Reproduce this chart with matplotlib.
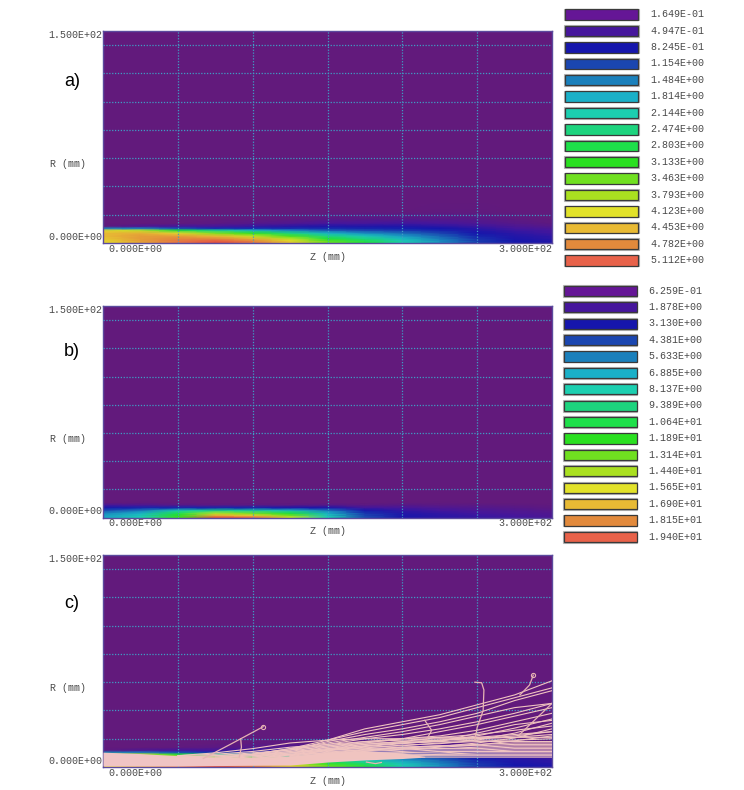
#!/usr/bin/env python3
import matplotlib
matplotlib.use('Agg')
import matplotlib.pyplot as plt
from matplotlib.colors import LinearSegmentedColormap, Normalize
from matplotlib.patches import Rectangle
import numpy as np

nan = float('nan')

# axial and radial stations (mm) the field maps were read at
z_st = [0, 25, 50, 75, 100, 125, 150, 175, 200, 225, 250, 275, 300]
r_st = [0, 1.5, 3, 5, 7, 9, 10.5, 12, 14, 17, 22, 30, 150]

# panel a), one row per radius
field_a = [
    [4.2, 4.6, 5.0, 5.3, 5.0, 4.4, 3.5, 3.0, 2.2, 1.6, 1.1, 0.85, 0.75],
    [4.3, 4.7, 5.0, 5.2, 4.9, 4.3, 3.4, 2.8, 2.1, 1.6, 1.1, 0.85, 0.75],
    [4.4, 4.7, 4.9, 4.9, 4.6, 4.0, 3.0, 2.5, 2.0, 1.5, 1.05, 0.8, 0.7],
    [4.5, 4.7, 4.7, 4.5, 4.0, 3.3, 2.5, 2.1, 1.7, 1.35, 0.95, 0.75, 0.65],
    [4.5, 4.6, 4.3, 3.6, 3.2, 2.5, 1.9, 1.6, 1.4, 1.15, 0.85, 0.7, 0.55],
    [4.3, 4.0, 3.0, 2.4, 2.0, 1.6, 1.3, 1.2, 1.1, 0.95, 0.75, 0.6, 0.5],
    [1.5, 1.5, 1.2, 1.0, 1.0, 1.0, 1.0, 0.95, 0.9, 0.85, 0.7, 0.52, 0.42],
    [0.2, 0.4, 0.5, 0.5, 0.6, 0.7, 0.75, 0.75, 0.75, 0.7, 0.58, 0.42, 0.32],
    [0.17, 0.17, 0.2, 0.25, 0.35, 0.4, 0.5, 0.5, 0.55, 0.5, 0.42, 0.32, 0.22],
    [0.165, 0.165, 0.165, 0.17, 0.2, 0.22, 0.28, 0.3, 0.33, 0.33, 0.3, 0.22, 0.17],
    [0.165, 0.165, 0.165, 0.165, 0.165, 0.165, 0.17, 0.17, 0.18, 0.2, 0.19, 0.17, 0.165],
    [0.165] * 13,
    [0.165] * 13,
]

# panel b)
field_b = [
    [6.5, 8.0, 12.0, 19.5, 19.0, 15.0, 8.0, 4.5, 3.0, 2.6, 2.3, 2.0, 1.6],
    [6.3, 7.5, 11.5, 17.0, 16.0, 13.0, 7.5, 4.3, 3.0, 2.6, 2.2, 1.9, 1.5],
    [5.8, 7.0, 10.5, 14.5, 13.0, 11.0, 7.0, 4.0, 2.8, 2.4, 2.0, 1.7, 1.4],
    [4.5, 5.5, 8.0, 9.0, 8.5, 7.5, 5.5, 3.2, 2.4, 2.0, 1.7, 1.4, 1.1],
    [3.2, 3.5, 3.5, 3.5, 3.5, 3.0, 3.0, 2.0, 1.8, 1.5, 1.3, 1.1, 0.9],
    [1.8, 1.6, 1.2, 1.0, 1.0, 1.0, 1.2, 1.0, 1.1, 1.0, 0.95, 0.8, 0.75],
    [0.7, 0.8, 0.65, 0.65, 0.65, 0.65, 0.65, 0.7, 0.75, 0.72, 0.7, 0.65, 0.63],
    [0.63] * 13,
    [0.63] * 13,
    [0.63] * 13,
    [0.63] * 13,
    [0.63] * 13,
    [0.63] * 13,
]

# legends
levels_a = ['1.649E-01', '4.947E-01', '8.245E-01', '1.154E+00', '1.484E+00', '1.814E+00',
            '2.144E+00', '2.474E+00', '2.803E+00', '3.133E+00', '3.463E+00', '3.793E+00',
            '4.123E+00', '4.453E+00', '4.782E+00', '5.112E+00']
levels_b = ['6.259E-01', '1.878E+00', '3.130E+00', '4.381E+00', '5.633E+00', '6.885E+00',
            '8.137E+00', '9.389E+00', '1.064E+01', '1.189E+01', '1.314E+01', '1.440E+01',
            '1.565E+01', '1.690E+01', '1.815E+01', '1.940E+01']
level_colors = ['#651696', '#46169c', '#1616ac', '#1a46b0', '#1a80bc', '#1ab0c8',
                '#1ccfb0', '#1dd47e', '#1ee04a', '#2ae020', '#70e020', '#aae020',
                '#e2e22a', '#e8ba34', '#e28a3c', '#e8624a']
map_colors = ['#621a7c'] + level_colors[1:] + ['#d92a20']

# panel c) ray paths, r (mm) at the z_st stations
rays = [
    [nan, nan, nan, nan, nan, nan, 19, 27, 32, 37, 44, 51, 61],
    [nan, nan, nan, nan, nan, 13, 19, 25, 30, 35, 42, 49, 56],
    [nan, nan, nan, nan, nan, 12, 18, 23, 27, 32, 38, 47, 54],
    [nan, nan, nan, nan, 9, 13, 17, 21, 25, 30, 36, 42, 45],
    [nan, nan, nan, nan, 9, 12, 16, 20, 23, 27, 32, 38, 45],
    [nan, nan, nan, nan, 8, 11, 15, 18, 20, 25, 30, 36, 42],
    [nan, nan, nan, nan, nan, 10, 14, 17, 20, 22, 26, 32, 38],
    [nan, nan, 8, 10, 13, 17, 19, 20, 20, 21, 21, 21, 23],
    [nan, nan, 8, 9, 11, 14, 16, 18, 19, 20, 20, 22, 25],
    [nan, nan, 7, 8, 10, 12, 14, 16, 18, 19, 20, 21, 21],
    [nan, 8, 7, 7, 9, 11, 13, 15, 17, 18, 19, 19, 20],
    [nan, nan, 7, 8, 9, 10, 12, 14, 15, 17, 18, 18, 18],
    [nan, nan, nan, 7, 8, 10, 12, 13, 14, 15, 16, 17, 17],
    [nan, nan, nan, 6, 8, 9, 11, 12, 14, 15, 15, 16, 16],
    [nan, nan, nan, 6, 7, 9, 10, 12, 13, 13, 14, 15, 15],
    [nan, nan, nan, 5, 6, 8, 10, 11, 12, 13, 13, 14, 14],
    [nan, nan, nan, 5, 6, 7, 9, 10, 11, 12, 12, 13, 13],
    [nan, nan, nan, nan, 5, 7, 8, 10, 10, 11, 11, 12, 12],
    [nan, nan, nan, nan, 5, 6, 8, 9, 10, 10, 11, 11, 11],
    [nan, nan, nan, nan, 5, 6, 7, 8, 9, 9, 10, 10, 10],
    [nan, nan, nan, nan, nan, 5, 7, 8, 8, 9, 9, 9, 9],
    [nan, nan, nan, nan, nan, 5, 6, 7, 8, 8, 8, 8, 8],
    [nan, nan, nan, nan, nan, 5, 6, 6, 7, 7, 7, 7, 7],
    [nan, nan, nan, 6, 9, 13, 15, 17, 17, 18, 24, 30, 33],
    [nan, nan, nan, nan, 7, 10, 13, 16, 18, 21, 23, 26, 29],
    [nan, nan, nan, nan, nan, 8, 12, 15, 17, 19, 21, 23, 25],
    [nan, nan, nan, nan, 6, 9, 12.5, 14.5, 16.5, 18.5, 22, 27.5, 34],
    [nan, nan, nan, nan, 6, 8.5, 11.5, 13.5, 15.5, 16.5, 19, 24, 31],
    [nan, nan, nan, nan, nan, 7.5, 10.5, 12.5, 13.5, 14.5, 17, 20.5, 27],
    [nan, nan, nan, nan, nan, 7, 9.5, 11.5, 12.5, 14, 15.5, 18.5, 22],
]
# the few strays that do not follow the stations
stray_z = [[67, 85, 107], [92, 92.5, 91], [248.5, 253, 254.5, 254, 250, 248.5],
           [287.5, 285, 278.6], [215, 219.6, 216], [278, 300], [176, 182, 186]]
stray_r = [[6, 16, 28.5], [20, 14, 7], [60, 59.6, 54.5, 40, 28, 19],
           [65, 58, 51], [33, 26, 19], [22.6, 45], [3.5, 2.4, 3.2]]
end_z = [107, 287.5]
end_r = [28.5, 65]

# the solid pale part next to the axis
body_z = [0, 25, 50, 75, 100, 125, 150, 175, 200, 215]
body_top = [10.5, 9.5, 8, 7, 6.5, 7.5, 10.5, 11.5, 10, 7.5]
body_bot = [0.7, 0.7, 0.7, 1.0, 1.2, 1.4, 3.5, 5, 6, 7]

panels = [('a)', 31, 243, field_a, levels_a), ('b)', 306, 517.5, field_b, levels_b),
          ('c)', 555, 767, field_a, None)]
label_pos = [(64, 82), (64, 351), (64, 603)]
W, H = 744, 790
ink = '#4a4a4a'
gridc = '#3f9dc4'
mono = 'Liberation Mono'

cmap = LinearSegmentedColormap.from_list('tc', map_colors)

fig = plt.figure(figsize=(W / 100, H / 100), dpi=100)

for (name, top, bot, field, levels), lp in zip(panels, label_pos):
    ax = fig.add_axes([103 / W, 1 - bot / H, 449 / W, (bot - top) / H])
    vals = np.array(field)
    ax.pcolormesh(z_st, r_st, vals, shading='gouraud', cmap=cmap,
                  norm=Normalize(vals.min(), vals.max() * 1.04), rasterized=True)
    ax.set_xlim(0, 300)
    ax.set_ylim(0, 150)
    ax.set_xticks(np.arange(50, 300, 50))
    ax.set_yticks(np.arange(20, 150, 20))
    ax.tick_params(length=0, labelbottom=False, labelleft=False)
    ax.grid(True, color=gridc, lw=0.9, ls=(0, (1, 1.3)))
    ax.set_axisbelow(False)
    for s in ax.spines.values():
        s.set_color('#5b4a9e')
        s.set_linewidth(1)

    if name == 'c)':
        ax.fill_between(body_z, body_bot, body_top, color='#f0c4c4', lw=0, zorder=3)
        for r in rays:
            ax.plot(z_st, r, color='#f0c4c0', lw=0.8, zorder=4)
        for zz, rr in zip(stray_z, stray_r):
            ax.plot(zz, rr, color='#e6b4b4', lw=0.9, zorder=4)
        ax.plot(end_z, end_r, 'o', mfc='none', mec='#e6b4b4', ms=3, mew=0.8, zorder=5)

    tk = dict(family=mono, fontsize=7.2, color=ink)
    ax.annotate('1.500E+02', (0, 1), xycoords='axes fraction', xytext=(-1, -4),
                textcoords='offset pixels', ha='right', va='center', **tk)
    ax.annotate('0.000E+00', (0, 0), xycoords='axes fraction', xytext=(-1, 6),
                textcoords='offset pixels', ha='right', va='center', **tk)
    ax.annotate('0.000E+00', (0, 0), xycoords='axes fraction', xytext=(5, -6),
                textcoords='offset pixels', ha='left', va='center', **tk)
    ax.annotate('3.000E+02', (1, 0), xycoords='axes fraction', xytext=(0, -6),
                textcoords='offset pixels', ha='right', va='center', **tk)
    ax.annotate('Z (mm)', (0.5, 0), xycoords='axes fraction', xytext=(0, -14),
                textcoords='offset pixels', ha='center', va='center', **tk)
    ax.annotate('R (mm)', (0, 0.5), xycoords='axes fraction', xytext=(-34.5, -27),
                textcoords='offset pixels', ha='center', va='center', **tk)

# pixel overlay for the panel letters and the colour keys
over = fig.add_axes([0, 0, 1, 1], facecolor='none')
over.set_xlim(0, W)
over.set_ylim(H, 0)
over.axis('off')

for (name, *_), (lx, ly) in zip(panels, label_pos):
    over.text(lx, ly, name, family='Liberation Sans', fontsize=13, color='black',
              ha='left', va='center')

for levels, x0, y0, tx in [(levels_a, 565, 9.3, 650), (levels_b, 563.5, 285.7, 648)]:
    for i, (lab, col) in enumerate(zip(levels, level_colors)):
        y = y0 + i * 16.4
        over.add_patch(Rectangle((x0 - 0.6, y - 0.6), 74.2, 11.6, fc='none', ec='#b5b5b5', lw=0.8))
        over.add_patch(Rectangle((x0, y), 73, 10.4, fc=col, ec='#3a3a3a', lw=0.9))
        over.text(tx, y + 5, lab, family=mono, fontsize=7.2, color=ink, ha='left', va='center')

fig.savefig('out.png', dpi=100)
